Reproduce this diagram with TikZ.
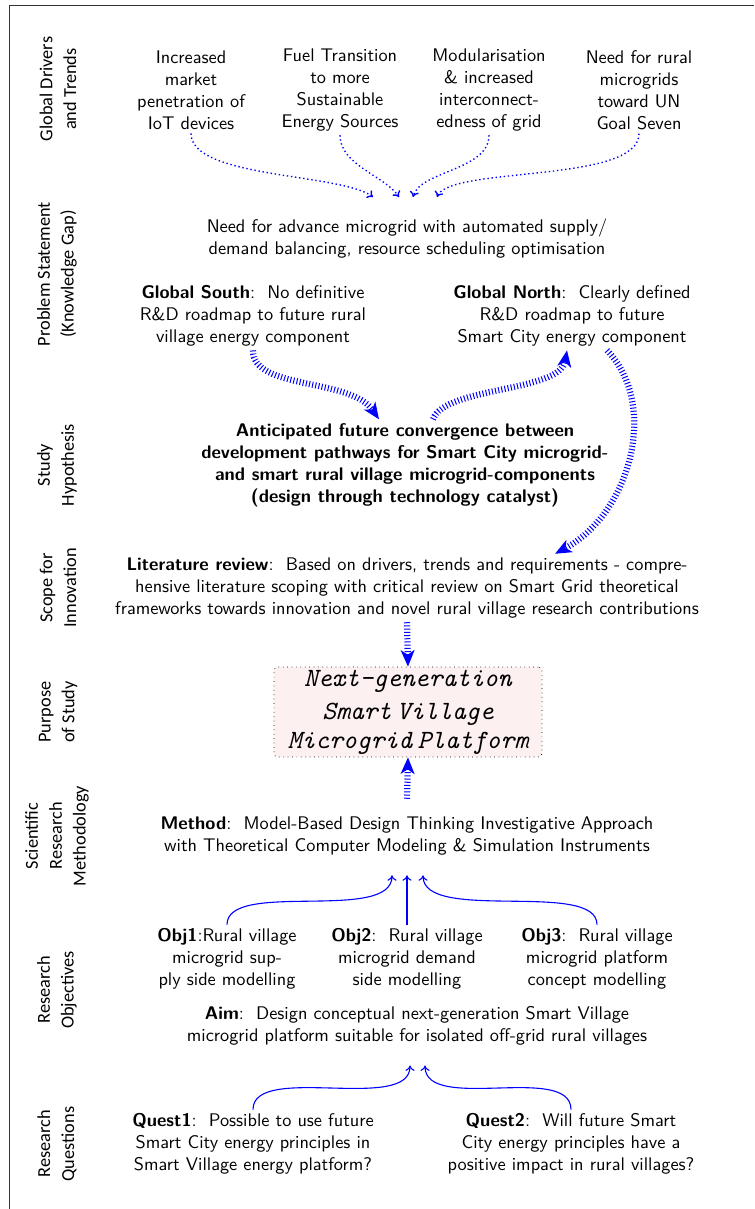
\documentclass[tikz,border=0pt]{standalone}
\usepackage{fontspec}
\newfontfamily\lblfont{Carlito}
\usetikzlibrary{arrows.meta,calc}
\definecolor{boxfill}{RGB}{252,240,240}
\begin{document}
\begin{tikzpicture}[x=0.5464pt,y=-0.5464pt,
  every node/.style={font=\sffamily, align=center, inner sep=2pt},
  lbl/.style={rotate=90, font=\lblfont\fontsize{10}{13}\selectfont, align=center},
  hypo/.style={font=\sffamily\bfseries},
  drvarrow/.style={blue, line width=0.75pt, dash pattern=on 0.75pt off 1.5pt, -{To[length=3pt,width=5pt]}},
  objarrow/.style={blue, line width=0.6pt, -{To[length=3pt,width=5pt]}},
  bigarrow/.style={blue, line width=3.4pt, dash pattern=on 0.55pt off 1.2pt, -{Stealth[length=9pt,width=7.5pt,inset=2.5pt]}},
  purposebox/.style={draw, dotted, rounded corners=2pt, fill=boxfill, minimum width=146.4pt, minimum height=49.2pt, inner sep=0pt,
    font=\fontsize{14.4}{15.5}\selectfont\ttfamily\itshape}
]
\useasboundingbox (0,0) rectangle (754,1209);
% frame
\draw[line width=0.5pt, black!80] (9,1209) -- (9,5) -- (754,5);

% row labels
\node[lbl] (l1) at (58,89) {Global Drivers\\and Trends};
\node[lbl] (l2) at (57,274) {Problem Statement\\(Knowledge Gap)};
\node[lbl] (l3) at (57,465) {Study\\Hypothesis};
\node[lbl] (l4) at (58,588) {Scope for\\Innovation};
\node[lbl] (l5) at (58,712) {Purpose\\of Study};
\node[lbl] (l6) at (57,836) {Scientific\\Research\\Methodology};
\node[lbl] (l7) at (57,990) {Research\\Objectives};
\node[lbl] (l8) at (57,1144) {Research\\Questions};

% global drivers
\node (d1) at (191,90) {Increased\\market\\penetration of\\IoT devices};
\node (d2) at (340,90) {Fuel Transition\\to more\\Sustainable\\Energy Sources};
\node (d3) at (489,90) {Modularisation\\\& increased\\interconnect-\\edness of grid};
\node (d4) at (639,90) {Need for rural\\microgrids\\toward UN\\Goal Seven};

% problem statement
\node (prob) at (407,239) {Need for advance microgrid with automated supply/\\demand balancing, resource scheduling optimisation};
\node (gs) at (253,316) {\textbf{Global South}:\ \ No definitive\\R\&D roadmap to future rural\\village energy component};
\node (gn) at (572,316) {\textbf{Global North}:\ \ Clearly defined\\R\&D roadmap to future\\Smart City energy component};

% hypothesis
\node[hypo] (hyp) at (405,465) {Anticipated future convergence between\\development pathways for Smart City microgrid-\\and smart rural village microgrid-components\\(design through technology catalyst)};

% scope for innovation
\node (lit) at (407,588) {\textbf{Literature review}:\ \ Based on drivers, trends and requirements - compre-\\hensive literature scoping with critical review on Smart Grid theoretical\\frameworks towards innovation and novel rural village research contributions};

% purpose
\node[purposebox] (box) at (408,712) {Next-generation\\[3pt] Smart\hspace{0.2em}Village\\ Microgrid\hspace{0.2em}Platform};

% methodology
\node (meth) at (407,836) {\textbf{Method}:\ \ Model-Based Design Thinking Investigative Approach\\with Theoretical Computer Modeling \& Simulation Instruments};

% objectives
\node (o1) at (227,959) {\textbf{Obj1}:Rural village\\microgrid sup-\\ply side modelling};
\node (o2) at (407,959) {\textbf{Obj2}:\ \ Rural village\\microgrid demand\\side modelling};
\node (o3) at (597,959) {\textbf{Obj3}:\ \ Rural village\\microgrid platform\\concept modelling};
\node (aim) at (417,1026) {\textbf{Aim}:\ \ Design conceptual next-generation Smart Village\\microgrid platform suitable for isolated off-grid rural villages};

% research questions
\node (q1) at (253,1144) {\textbf{Quest1}:\ \ Possible to use future\\Smart City energy principles in\\Smart Village energy platform?};
\node (q2) at (571,1144) {\textbf{Quest2}:\ \ Will future Smart\\City energy principles have a\\positive impact in rural villages?};

% drivers feeding the problem statement
\coordinate (in1) at (373,197);
\coordinate (in2) at (399,197);
\coordinate (in3) at (413,197);
\coordinate (in4) at (437,197);
\draw[drvarrow] (d1.south) .. controls +(0,45) and +(-33,-24) .. (in1);
\draw[drvarrow] (d2.south) .. controls +(0,30) and +(-14,-21) .. (in2);
\draw[drvarrow] (d3.south) .. controls +(0,35) and +(7,-26) .. (in3);
\draw[drvarrow] (d4.south) .. controls +(0,50) and +(13,-31) .. (in4);

% convergence arrows
\draw[bigarrow] (gs.south) .. controls +(0,40) and +(-29,-42) .. ($(hyp.north)+(-26,0)$);
\draw[bigarrow] ($(hyp.north)+(28,0)$) .. controls +(12,-33) and +(-7,42) .. ($(gn.south)+(-5,0)$);
\draw[bigarrow] ($(gn.south)+(35,0)$) .. controls +(53,55) and +(75,-40) .. ($(lit.north)+(148,0)$);
\draw[bigarrow] (lit.south) -- (box.north);
\draw[bigarrow] ($(meth.north)+(0,-14)$) -- (box.south);

% objectives feeding the method
\draw[objarrow] (o1.north) .. controls +(0,-45) and +(0,48) .. ($(meth.south)+(-15,16)$);
\draw[objarrow] (o2.north) -- ($(meth.south)+(0,16)$);
\draw[objarrow] (o3.north) .. controls +(0,-45) and +(0,48) .. ($(meth.south)+(16,16)$);

% questions feeding the aim
\draw[objarrow] (q1.north) .. controls +(0,-47) and +(0,48) .. ($(aim.south)+(-7,16)$);
\draw[objarrow] (q2.north) .. controls +(0,-47) and +(0,48) .. ($(aim.south)+(8,16)$);
\end{tikzpicture}
\end{document}
